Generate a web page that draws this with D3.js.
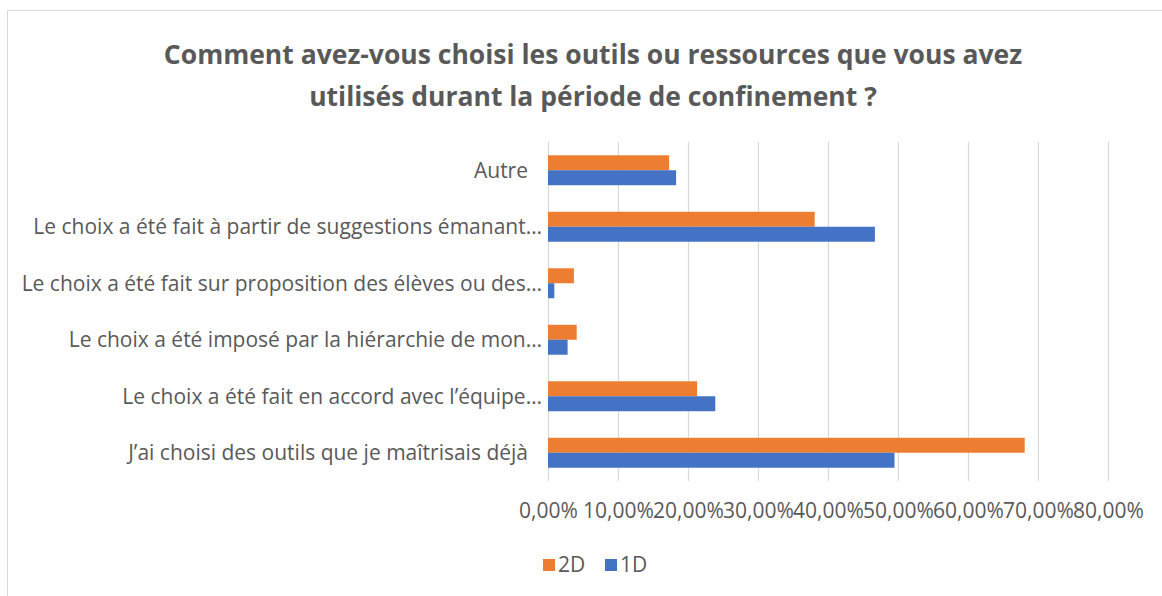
<!DOCTYPE html>
<html>
<head>
<meta charset="utf-8">
<script src="https://cdn.jsdelivr.net/npm/d3@7"></script>
<style>
  body { margin: 0; background: #fff; }
  svg { display: block; font-family: "Open Sans", sans-serif; }
</style>
</head>
<body>
<svg id="svg" width="1162" height="596"></svg>
<script>
// Data (share of answers)
var categories = [
  "Autre",
  "Le choix a été fait à partir de suggestions émanant…",
  "Le choix a été fait sur proposition des élèves ou des…",
  "Le choix a été imposé par la hiérarchie de mon…",
  "Le choix a été fait en accord avec l’équipe…",
  "J’ai choisi des outils que je maîtrisais déjà"
];
var series = ["2D", "1D"];
var values2D = [0.173, 0.381, 0.037, 0.041, 0.213, 0.681];
var values1D = [0.183, 0.467, 0.009, 0.028, 0.239, 0.495];
var tickValues = [0, 0.1, 0.2, 0.3, 0.4, 0.5, 0.6, 0.7, 0.8];
var titleLines = [
  "Comment avez-vous choisi les outils ou ressources que vous avez",
  "utilisés durant la période de confinement ?"
];
var colors = {"2D": "#ED7D31", "1D": "#4472C4"};

var svg = d3.select("#svg");
var textColor = "#595959";
var gridColor = "#D9D9D9";
var labelSize = "21px";

//Chart frame (cut off on the right and bottom)
svg.append("path")
  .attr("d", "M7.5,600V10.5H1170")
  .attr("fill", "none")
  .attr("stroke", gridColor)
  .attr("stroke-width", 1);

//Title
svg.append("g").selectAll("text")
  .data(titleLines)
  .join("text")
    .attr("x", 593)
    .attr("y", (d, i) => 64 + i * 42)
    .attr("text-anchor", "middle")
    .attr("fill", textColor)
    .attr("font-size", "26.5px")
    .attr("font-weight", "bold")
    .text(d => d);

//Scales
var x = d3.scaleLinear().domain([0, 0.8]).range([548, 1108]);
var y = d3.scaleBand().domain(categories).range([142, 481])
  .paddingInner(0.47).paddingOuter(0.235);
var sub = d3.scaleBand().domain(series).range([0, y.bandwidth()]);

//Gridlines
var grid = svg.append("g")
  .attr("transform", "translate(0,481)")
  .call(d3.axisBottom(x).tickValues(tickValues).tickSize(-339).tickFormat(""));
grid.select(".domain").remove();
grid.selectAll("line").attr("stroke", gridColor).attr("stroke-width", 1.2);

//Tick labels with french decimal comma
var fr = d3.formatLocale({decimal: ",", thousands: " ", grouping: [3], currency: ["", " €"]});
var xAxis = svg.append("g")
  .attr("transform", "translate(0,481)")
  .call(d3.axisBottom(x).tickValues(tickValues).tickSize(0).tickPadding(22).tickFormat(fr.format(".2%")));
xAxis.select(".domain").remove();
xAxis.selectAll("text")
  .attr("fill", textColor)
  .attr("font-size", labelSize)
  .attr("font-family", "\"Open Sans\", sans-serif");

//Bars
var rows = categories.map((c, i) => ({category: c, "2D": values2D[i], "1D": values1D[i]}));
svg.append("g").selectAll("g")
  .data(rows)
  .join("g")
    .attr("transform", d => "translate(0," + y(d.category) + ")")
  .selectAll("rect")
  .data(d => series.map(s => ({key: s, value: d[s]})))
  .join("rect")
    .attr("x", x(0))
    .attr("y", d => sub(d.key))
    .attr("width", d => x(d.value) - x(0))
    .attr("height", sub.bandwidth())
    .attr("fill", d => colors[d.key]);

//Category labels
svg.append("g").selectAll("text")
  .data(categories)
  .join("text")
    .attr("x", d => d.endsWith("…") ? 542 : 528)
    .attr("y", d => y(d) + y.bandwidth() / 2)
    .attr("dy", "0.35em")
    .attr("text-anchor", "end")
    .attr("fill", textColor)
    .attr("font-size", labelSize)
    .text(d => d);

//Legend
var legend = svg.append("g").selectAll("g")
  .data(series)
  .join("g")
    .attr("transform", (d, i) => "translate(" + (543 + i * 62) + ",559)");
legend.append("rect")
  .attr("width", 12)
  .attr("height", 12)
  .attr("fill", d => colors[d]);
legend.append("text")
  .attr("x", 15)
  .attr("y", 6)
  .attr("dy", "0.35em")
  .attr("fill", textColor)
  .attr("font-size", labelSize)
  .text(d => d);
</script>
</body>
</html>
